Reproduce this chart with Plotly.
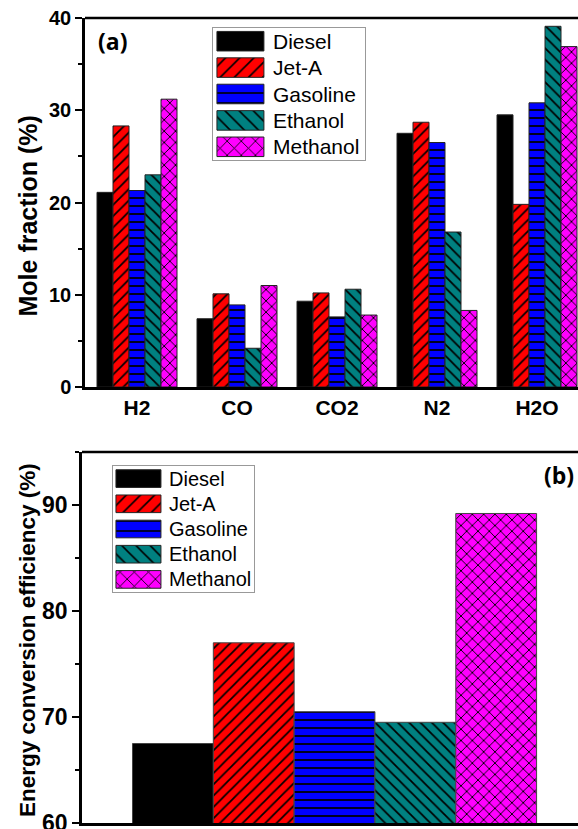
import plotly.graph_objects as go

# ---------------- data ----------------
species = ["H2", "CO", "CO2", "N2", "H2O"]
fuels = ["Diesel", "Jet-A", "Gasoline", "Ethanol", "Methanol"]
diesel = [21.1, 7.4, 9.3, 27.5, 29.5]
jet_a = [28.3, 10.1, 10.2, 28.7, 19.8]
gasoline = [21.3, 8.9, 7.6, 26.5, 30.8]
ethanol = [23.0, 4.2, 10.6, 16.8, 39.1]
methanol = [31.2, 11.0, 7.8, 8.3, 36.9]
efficiency = [67.5, 77.0, 70.5, 69.5, 89.2]
mole_ticks = [0, 10, 20, 30, 40]
eff_ticks = [60, 70, 80, 90]
title_a = "Mole fraction (%)"
title_b = "Energy conversion efficiency (%)"

# ---------------- styles ----------------
colors = ["#000000", "#ff0000", "#0000ff", "#008080", "#ff00ff"]
shapes = ["", "/", "-", "\\", "x"]
W, H = 578, 829
FONT = "Liberation Sans"
series = [diesel, jet_a, gasoline, ethanol, methanol]


def pat(i, size=8, solidity=0.22):
    return dict(shape=shapes[i], fgcolor="black", bgcolor=colors[i],
                size=size, solidity=solidity, fillmode="replace")


def px_x(p):
    return p / W


def px_y(p):
    return 1 - p / H


fig = go.Figure()

# panel (a)
for i, f in enumerate(fuels):
    fig.add_trace(go.Bar(
        x=species, y=series[i], name=f, xaxis="x", yaxis="y",
        marker=dict(color=colors[i], pattern=pat(i),
                    line=dict(color="#222222", width=1)),
        showlegend=False))

# panel (b)
for i, f in enumerate(fuels):
    fig.add_trace(go.Bar(
        x=["eff"], y=[efficiency[i]], name=f, xaxis="x2", yaxis="y2",
        marker=dict(color=colors[i], pattern=pat(i),
                    line=dict(color="#444444", width=1)),
        showlegend=False))

# legend swatches (inset axes)
for i, f in enumerate(fuels):
    fig.add_trace(go.Bar(
        y=[f], x=[0.309], base=0.026, orientation="h", width=0.74, offset=-0.37,
        xaxis="x3", yaxis="y3", showlegend=False, hoverinfo="skip",
        marker=dict(color=colors[i], pattern=pat(i, 10, 0.16),
                    line=dict(color="#222222", width=1))))
    fig.add_trace(go.Bar(
        y=[f], x=[0.319], base=0.021, orientation="h", width=0.70, offset=-0.35,
        xaxis="x4", yaxis="y4", showlegend=False, hoverinfo="skip",
        marker=dict(color=colors[i], pattern=pat(i, 10, 0.16),
                    line=dict(color="#222222", width=1))))

axis_common = dict(showline=True, linecolor="black", linewidth=2.5,
                   showgrid=False, zeroline=False, automargin=False,
                   ticklabeloverflow="allow")
inset_common = dict(showline=True, mirror=True, linecolor="#999999", linewidth=1,
                    showgrid=False, zeroline=False, showticklabels=False, ticks="",
                    fixedrange=True, automargin=False)

annotations = []
for i, f in enumerate(fuels):
    annotations.append(dict(xref="x3 domain", yref="y3", x=(271 - 213) / 152, y=f,
                            text=f, showarrow=False, xanchor="left", yanchor="middle",
                            font=dict(family=FONT, size=21, color="black")))
    annotations.append(dict(xref="x4 domain", yref="y4", x=(167 - 113) / 141, y=f,
                            text=f, showarrow=False, xanchor="left", yanchor="middle",
                            font=dict(family=FONT, size=20, color="black")))
annotations.append(dict(xref="paper", yref="paper", x=px_x(112), y=px_y(41),
                        xanchor="center", yanchor="middle",
                        text="<b>(a)</b>", showarrow=False,
                        font=dict(family="Open Sans", size=23, color="black")))
annotations.append(dict(xref="paper", yref="paper", x=px_x(559), y=px_y(475),
                        xanchor="center", yanchor="middle",
                        text="<b>(b)</b>", showarrow=False,
                        font=dict(family="Open Sans", size=23, color="black")))
# y-axis titles
annotations.append(dict(xref="paper", yref="paper", x=px_x(27), y=px_y(216.5),
                        xanchor="center", yanchor="middle", textangle=-90,
                        text="<b>%s</b>" % title_a, showarrow=False,
                        font=dict(family=FONT, size=25, color="black")))
annotations.append(dict(xref="paper", yref="paper", x=px_x(27), y=px_y(640),
                        xanchor="center", yanchor="middle", textangle=-90,
                        text="<b>%s</b>" % title_b, showarrow=False,
                        font=dict(family=FONT, size=22.5, color="black")))

fig.update_layout(
    width=W, height=H,
    margin=dict(l=0, r=0, t=0, b=0, autoexpand=False),
    paper_bgcolor="white", plot_bgcolor="white",
    barmode="group", bargap=0.2, bargroupgap=0,
    hovermode=False,
    xaxis=dict(**axis_common, domain=[px_x(85), 1], range=[-0.52, 4.41],
               ticks="", tickfont=dict(family=FONT, size=21, color="black", weight="bold"),
               anchor="y"),
    yaxis=dict(**axis_common, domain=[px_y(387), px_y(18)], range=[0, 40],
               tickvals=mole_ticks, ticks="outside", ticklen=7, tickwidth=2,
               tickcolor="black",
               minor=dict(dtick=5, ticks="outside", ticklen=4, tickwidth=2, tickcolor="black"),
               tickfont=dict(family=FONT, size=20, color="black", weight="bold"),
               anchor="x"),
    xaxis2=dict(**axis_common, domain=[px_x(82), 1], range=[-0.5, 0.482],
                ticks="", showticklabels=False, anchor="y2"),
    yaxis2=dict(**axis_common, domain=[px_y(823), px_y(452)], range=[60, 95],
                tickvals=eff_ticks, ticks="outside", ticklen=7, tickwidth=2,
                tickcolor="black",
                minor=dict(dtick=5, ticks="outside", ticklen=4, tickwidth=2, tickcolor="black"),
                tickfont=dict(family=FONT, size=23, color="black", weight="bold"),
                anchor="x2"),
    xaxis3=dict(**inset_common, domain=[px_x(213), px_x(365)], range=[0, 1], anchor="y3"),
    yaxis3=dict(**inset_common, domain=[px_y(160), px_y(28)], range=[4.5, -0.5],
                anchor="x3", type="category"),
    xaxis4=dict(**inset_common, domain=[px_x(113), px_x(254)], range=[0, 1], anchor="y4"),
    yaxis4=dict(**inset_common, domain=[px_y(592), px_y(466)], range=[4.5, -0.5],
                anchor="x4", type="category"),
    shapes=[
        dict(type="line", xref="x domain", yref="y domain", x0=0, x1=1, y0=1, y1=1,
             line=dict(color="black", width=2.5)),
        dict(type="line", xref="x2 domain", yref="y2 domain", x0=0, x1=1, y0=1, y1=1,
             line=dict(color="black", width=2.5)),
    ],
    annotations=annotations,
)

fig.write_html(
    "out.html",
    config={"displayModeBar": False},
    post_script="document.body.style.margin='0';document.body.style.overflow='hidden';",
)
